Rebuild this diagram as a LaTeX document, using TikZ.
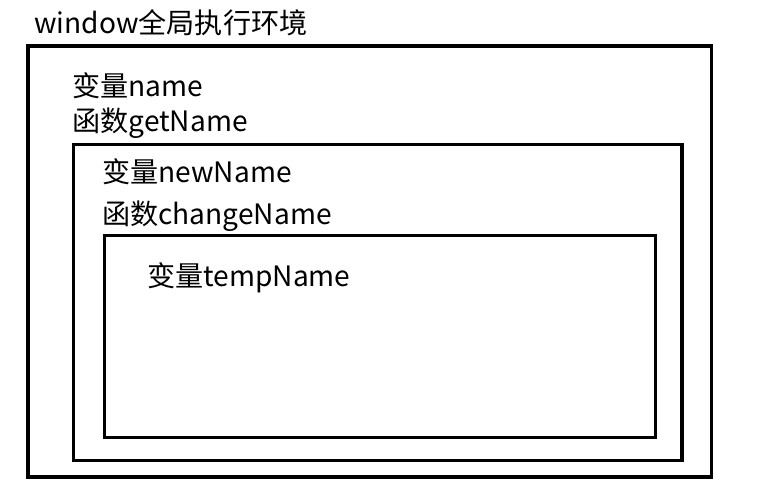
\documentclass[tikz,border=0pt]{standalone}
\usepackage{fontspec}
\setmainfont{Noto Sans CJK SC}
\usepackage{tikz}
\usetikzlibrary{positioning}
\tikzstyle{box} = [draw=black, line width=1.9pt]
\tikzstyle{label} = [anchor=base west, inner sep=0pt, font=\fontsize{16}{19}\selectfont]

\begin{document}
\begin{tikzpicture}[x=0.02cm, y=-0.02cm]
  \useasboundingbox (0,0) rectangle (771,496);

  % Boxes
  \draw[box] (28,46) rectangle (711.5,477);
  \draw[box] (73.5,144.5) rectangle (682,460.5);
  \draw[box] (104.5,235.5) rectangle (655.5,437.5);

  % Labels
  \node (window) [label] at (34,34) {window全局执行环境};
  \node (name) [label] at (72,97) {变量name};
  \node (getname) [label] at (72,132) {函数getName};
  \node (newname) [label] at (102,183) {变量newName};
  \node (changename) [label] at (102,225) {函数changeName};
  \node (tempname) [label] at (147,287) {变量tempName};

\end{tikzpicture}
\end{document}
